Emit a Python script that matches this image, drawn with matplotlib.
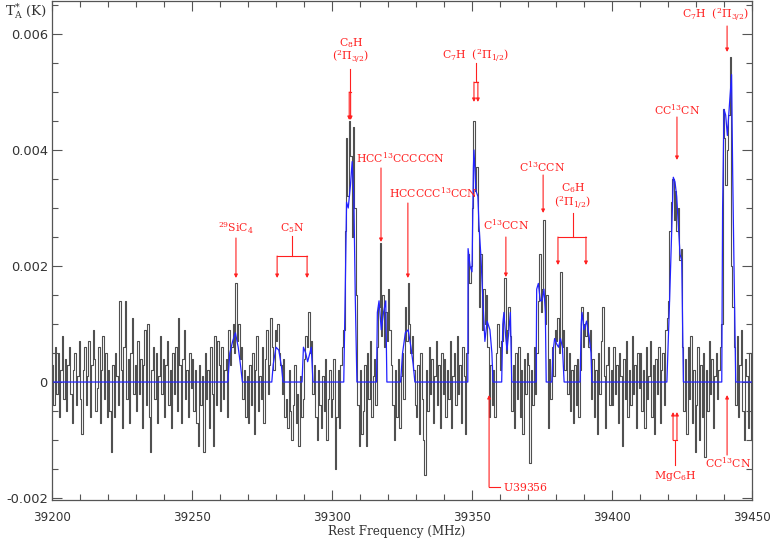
import numpy as np
import matplotlib
matplotlib.use("Agg")
import matplotlib.pyplot as plt
from matplotlib.ticker import MultipleLocator, FuncFormatter

plt.rcParams['font.family'] = 'DejaVu Sans'
plt.rcParams['mathtext.fontset'] = 'dejavuserif'

# observed spectrum, mK, 0.5 MHz channels starting at 39200.25 MHz
spec_mK = [
    0.3, -0.4, 0.6, -0.2, 0.5, -0.6, 0.2, 0.8, -0.3, 0.4, -0.5, 0.3, 0.6, -0.2, -0.7, 0.2, 0.5, -0.4, 0.1, 0.7,
    -0.3, -0.9, 0.2, 0.6, -0.4, 0.1, 0.7, -0.6, 0.3, 0.9, 0.4, -0.5, -0.1, 0.6, -0.7, 0.2, 0.8, -0.3, 0.5, -0.6,
    0.2, -0.5, -1.2, 0.3, -0.6, 0.5, 0.1, -0.4, 1.4, 0.2, -0.8, 0.6, 1.4, -0.3, 0.4, -0.7, 0.5, 1.1, -0.2, 0.3,
    -0.5, 0.7, -0.2, 0.4, -0.8, 0.3, 0.9, -0.4, 1.0, -0.6, -1.2, 0.2, 0.6, -0.3, 0.5, -0.7, 0.1, 0.8, -0.2, 0.4,
    -0.6, 0.3, 0.7, -0.4, 0.2, -0.8, 0.5, -0.2, 0.6, -0.5, 1.1, 0.3, -0.7, 0.4, 0.9, -0.3, 0.2, -0.6, 0.5, -0.1,
    0.4, -0.5, 0.2, -0.7, -1.1, 0.3, -0.4, 0.1, -1.2, 0.5, -0.3, 0.2, -0.8, 0.6, -0.2, -1.1, 0.8, -0.4, 0.7, 0.3,
    -0.5, 0.6, -0.3, 0.2, 0.4, -0.6, 0.9, 0.3, 0.6, 1.0, 0.5, 1.7, 0.7, 1.0, 0.4, 0.6, -0.3, 0.2, -0.6, 0.1,
    -0.7, 0.3, -0.4, 0.5, -0.9, 0.2, 0.8, -0.5, 0.1, -0.3, 0.6, -0.7, 0.4, 0.9, -0.2, 0.3, 1.1, 0.6, 0.2, 0.9,
    0.7, 1.0, 0.5, 0.3, -0.2, 0.4, -0.6, -0.3, -0.8, 0.2, -0.5, -1.0, -0.4, 0.3, -0.7, -0.2, -1.1, 0.1, -0.6, -0.3,
    0.4, 0.8, 0.6, 1.2, 0.5, 0.7, -0.2, 0.3, -0.6, -1.0, 0.2, -0.4, -0.8, 0.1, -0.5, 0.4, -1.0, -0.3, 0.2, -0.6,
    -0.3, 0.4, -1.5, -0.6, 0.2, -0.8, 0.3, 0.6, 0.9, 2.6, 4.2, 3.2, 4.5, 3.9, 2.5, 4.4, 3.0, 1.5, -0.4, -1.1,
    0.2, -0.9, -0.5, 0.3, -1.1, 0.5, -0.3, 0.7, -0.6, 0.1, 0.4, -0.4, 0.6, 1.3, 2.4, 0.8, 1.5, 0.6, 1.2, 0.7,
    1.6, 0.9, 0.3, -0.4, -1.0, 0.2, -0.6, 0.4, -0.8, 0.1, 0.5, -0.3, 1.3, 0.7, 1.7, 1.0, 0.5, 0.8, 0.2, -0.4,
    -0.6, 0.3, -0.9, 0.5, -0.3, -1.0, -1.6, 0.2, -0.5, 0.6, -0.2, 0.4, -0.7, 0.1, 0.7, -0.4, 0.3, -0.8, 0.5, -0.2,
    0.4, -0.6, 0.2, -0.3, 0.7, -0.8, 0.1, 0.5, -0.4, 0.8, -0.2, 0.3, -0.7, 0.6, 0.1, -0.9, 0.5, 2.2, 1.7, 2.0,
    3.0, 4.5, 3.3, 3.7, 2.6, 1.3, 2.2, 0.9, 1.6, 1.0, 1.5, 0.6, -0.6, 0.3, -0.4, 0.2, -0.6, 0.5, 1.0, 0.6,
    0.2, 0.7, 1.1, 1.8, 0.5, 0.9, 1.3, 0.8, -0.5, 0.3, -0.8, 0.5, -0.3, 0.6, -0.6, 0.2, -0.9, 0.4, -0.2, 0.5,
    0.3, -1.4, 0.2, -0.4, 0.6, -0.2, 0.5, 1.4, 2.2, 1.2, 1.6, 2.8, 1.0, 1.5, -0.8, 0.4, -0.3, 0.6, 0.1, 0.9,
    0.7, 1.1, 0.5, 1.9, 0.6, 0.9, 0.2, 0.6, -0.2, 0.5, -0.5, 0.2, -0.7, 0.3, -0.4, 0.4, -0.6, 0.2, 1.3, 0.6,
    1.0, 0.8, 1.2, 0.6, 0.9, -0.3, 0.4, -0.6, 0.2, -0.9, 0.5, -0.2, 0.7, 1.3, 0.1, -0.8, 0.3, 0.6, -0.4, 0.2,
    -0.4, 0.6, -0.2, 0.3, -0.7, 0.5, 0.1, -1.1, 0.4, -0.3, 0.7, -0.6, 0.2, -0.4, 0.8, -0.2, 0.3, -0.8, 0.5, -0.1,
    0.5, -0.5, 0.2, -0.8, 0.6, -0.3, 0.1, 0.7, -0.6, 0.3, -0.9, 0.4, -0.2, 0.6, -0.7, 0.2, 0.5, -0.4, 0.9, 1.1,
    1.4, 2.6, 3.1, 3.5, 2.8, 3.3, 2.6, 3.0, 2.1, 2.3, 0.6, -0.5, 0.4, -0.9, 0.6, -0.3, 0.8, -0.7, 0.2, -1.2,
    -0.4, 0.6, -1.0, 0.3, -0.6, 0.5, -1.3, 0.2, -0.5, 0.7, -0.2, 0.4, -0.8, 0.1, 0.5, -0.3, 0.2, 0.6, 1.0, 4.7,
    4.2, 3.4, 4.0, 4.6, 5.6, 2.0, 1.3, 0.6, -0.4, 0.8, -0.6, 0.3, 0.9, -0.5, -1.0, 0.4, 0.1, -0.8, 0.5, -1.0,
]
chan_start = 39200.25
chan_width = 0.5

# model fit (blue), MHz / mK
model_f = [39200, 39262.8, 39263.5, 39264.5, 39265.5, 39266.5, 39267.3, 39268,
           39278.5, 39279, 39280, 39281, 39282, 39282.5,
           39289.3, 39289.8, 39290.6, 39291.3, 39292.1, 39292.6, 39293.2,
           39304.2, 39304.8, 39305.2, 39305.8, 39306.6, 39307.2, 39307.8, 39308.3, 39308.9,
           39315.9, 39316.2, 39316.8, 39317.6, 39318.4, 39319.2, 39319.6,
           39324.5, 39325.2, 39326.2, 39327.2, 39328.2, 39329, 39329.6,
           39348.5, 39348.6, 39349.3, 39350.0, 39350.5, 39350.7, 39351.4, 39352.1, 39352.5,
           39353.2, 39353.9, 39354.6, 39355.4, 39356.4, 39357.1, 39357.5,
           39360.6, 39361.0, 39361.4, 39362.0, 39362.5, 39363.2, 39363.7, 39364.2,
           39372.9, 39373.1, 39373.7, 39374.4, 39375.0, 39375.7, 39376.2, 39376.5,
           39378.5, 39378.9, 39379.5, 39380.3, 39380.9, 39381.6, 39382.3, 39382.9,
           39388.6, 39389.0, 39389.3, 39390.0, 39390.9, 39391.8, 39392.5, 39392.8,
           39419.6, 39420.5, 39421.3, 39421.9, 39422.5, 39423.1, 39423.7, 39424.3, 39424.9, 39425.5,
           39439.2, 39439.5, 39440.0, 39440.6, 39441.2, 39441.9, 39442.7, 39443.1, 39443.6, 39444.2,
           39450]
model_mK = [0, 0, 0.5, 0.7, 0.85, 0.6, 0.3, 0,
            0, 0.3, 0.6, 0.55, 0.25, 0,
            0, 0.6, 0.5, 0.35, 0.5, 0.6, 0,
            0, 1.8, 3.1, 3.0, 3.4, 3.8, 3.2, 1.5, 0,
            0, 1.2, 1.4, 0.9, 1.2, 1.4, 0,
            0, 0.5, 0.85, 0.9, 0.6, 0.3, 0,
            0, 2.3, 2.0, 1.9, 3.7, 4.0, 3.3, 3.2, 2.7,
            2.15, 1.4, 0.7, 1.05, 0.9, 0.5, 0,
            0, 1.0, 1.2, 0.8, 0.55, 0.9, 1.2, 0,
            0, 1.6, 1.7, 1.4, 1.4, 1.6, 1.2, 0,
            0, 0.5, 0.75, 0.65, 0.6, 0.75, 0.6, 0,
            0, 1.0, 1.2, 0.9, 1.05, 0.8, 0.5, 0,
            0, 1.3, 2.57, 3.53, 3.45, 3.2, 2.7, 2.2, 2.1, 0,
            0, 3.0, 4.7, 4.6, 4.25, 4.75, 5.3, 3.6, 1.9, 0,
            0]

spec = np.array(spec_mK) * 1e-3
freq = chan_start + chan_width * np.arange(len(spec))
mod = np.array(model_mK) * 1e-3

RED = '#ff2020'

fig = plt.figure(figsize=(7.72, 5.4), dpi=100)
ax = fig.add_axes([52 / 772, 40 / 540, 700 / 772, 499 / 540])

ax.plot(freq, spec, drawstyle='steps-mid', color='#505050', lw=0.8)
ax.plot(model_f, mod, color='#2222ff', lw=0.9)

ax.set_xlim(39200, 39450)
ax.set_ylim(-0.002034, 0.006569)
ax.xaxis.set_major_locator(MultipleLocator(50))
ax.xaxis.set_minor_locator(MultipleLocator(10))
ax.yaxis.set_major_locator(MultipleLocator(0.002))
ax.yaxis.set_minor_locator(MultipleLocator(0.0005))
ax.yaxis.set_major_formatter(FuncFormatter(lambda v, p: '0' if abs(v) < 1e-9 else '%.3f' % v))
ax.tick_params(which='both', direction='in', top=True, right=True, color='#555555',
               labelsize=8.6, labelcolor='#333333', width=0.8)
ax.tick_params(axis='y', labelsize=9.4)
ax.tick_params(which='major', length=7)
ax.tick_params(which='minor', length=4)
ax.tick_params(axis='x', pad=8)
ax.tick_params(axis='y', pad=3)
for s in ax.spines.values():
    s.set_color('#555555')
    s.set_linewidth(0.9)

fig.text(397 / 772, 1 - 531 / 540, 'Rest Frequency (MHz)', ha='center', va='center',
         fontsize=8.6, family='DejaVu Serif', color='#333333')
fig.text(5 / 772, 1 - 11 / 540, r'$\mathrm{T_A^{*}\ (K)}$', ha='left', va='center',
         fontsize=9.6, color='#333333')


def arrow(x, y0, y1):
    ax.annotate('', xy=(x, y1), xytext=(x, y0),
                arrowprops=dict(arrowstyle='-|>', color=RED, lw=0.8,
                                mutation_scale=5, shrinkA=0, shrinkB=0))


def seg(xs, ys):
    ax.plot(xs, ys, color=RED, lw=0.8)


def label(x, y, s, ha='center'):
    ax.text(x, y, s, ha=ha, va='center', color=RED, fontsize=7.8)


# 29SiC4
label(39265.7, 0.002655, r'$^{29}\mathrm{SiC_4}$')
arrow(39265.7, 0.002483, 0.001793)
# C5N
label(39285.7, 0.002655, r'$\mathrm{C_5N}$')
seg([39285.7, 39285.7], [0.002517, 0.002172])
seg([39280.4, 39291.1], [0.002172, 0.002172])
arrow(39280.4, 0.002172, 0.001793)
arrow(39291.1, 0.002172, 0.001793)
# C8H 3/2
label(39306.8, 0.005845, r'$\mathrm{C_8H}$')
label(39306.5, 0.005603, r'$(^2\Pi_{3/2})$')
seg([39306.4, 39306.4], [0.005397, 0.005])
seg([39306.15, 39306.65], [0.005, 0.005])
arrow(39306.15, 0.005, 0.004517)
arrow(39306.65, 0.005, 0.004517)
# C7H 1/2
label(39351.4, 0.00562, r'$\mathrm{C_7H}\ \ (^2\Pi_{1/2})$')
seg([39351.4, 39351.4], [0.0055, 0.005172])
seg([39350.7, 39352.1], [0.005172, 0.005172])
arrow(39350.7, 0.005172, 0.004828)
arrow(39352.1, 0.005172, 0.004828)
# HCC13CCCCCN
label(39324.3, 0.003862, r'$\mathrm{HCC^{13}CCCCCN}$')
arrow(39317.5, 0.00369, 0.002414)
# HCCCCC13CCN
label(39336.4, 0.003259, r'$\mathrm{HCCCCC^{13}CCN}$')
arrow(39327.1, 0.003086, 0.001793)
# C13CCN
label(39362.1, 0.002707, r'$\mathrm{C^{13}CCN}$')
arrow(39362.1, 0.0025, 0.00181)
label(39375.0, 0.003707, r'$\mathrm{C^{13}CCN}$')
arrow(39375.4, 0.003569, 0.002914)
# C6H 1/2
label(39386.1, 0.003345, r'$\mathrm{C_6H}$')
label(39385.8, 0.003086, r'$(^2\Pi_{1/2})$')
seg([39386.1, 39386.1], [0.002914, 0.0025])
seg([39380.7, 39390.7], [0.0025, 0.0025])
arrow(39380.7, 0.0025, 0.002017)
arrow(39390.7, 0.0025, 0.002017)
# CC13CN
label(39423.2, 0.00469, r'$\mathrm{CC^{13}CN}$')
arrow(39423.2, 0.004569, 0.003828)
# C7H 3/2
label(39436.8, 0.006328, r'$\mathrm{C_7H}\ \ (^2\Pi_{3/2})$')
arrow(39441.1, 0.006138, 0.00569)
# U39356
label(39361.1, -0.00181, r'$\mathrm{U39356}$', ha='left')
seg([39356.1, 39360.0], [-0.00181, -0.00181])
arrow(39356.1, -0.00181, -0.000224)
# MgC6H
label(39422.5, -0.00162, r'$\mathrm{MgC_6H}$')
seg([39422.5, 39422.5], [-0.001431, -0.001])
seg([39421.8, 39423.2], [-0.001, -0.001])
arrow(39421.8, -0.001, -0.000517)
arrow(39423.2, -0.001, -0.000517)
# CC13CN lower
label(39441.4, -0.001397, r'$\mathrm{CC^{13}CN}$')
arrow(39441.1, -0.001259, -0.000224)

fig.savefig('out.png', dpi=100)
